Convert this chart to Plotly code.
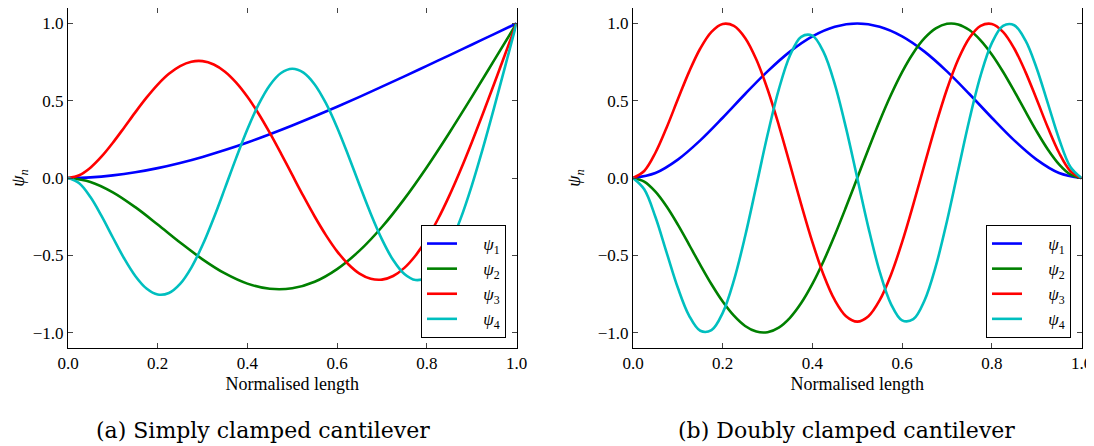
import plotly.graph_objects as go

# ---------------- x positions ----------------
x_grid = [0, 0.05, 0.1, 0.15, 0.2, 0.25, 0.3, 0.35, 0.4, 0.45, 0.5,
          0.55, 0.6, 0.65, 0.7, 0.75, 0.8, 0.85, 0.9, 0.95, 1.0]
x_fine = [0, 0.025, 0.05, 0.075, 0.1, 0.125, 0.15, 0.175, 0.2, 0.225, 0.25,
          0.275, 0.3, 0.325, 0.35, 0.375, 0.4, 0.425, 0.45, 0.475, 0.5,
          0.525, 0.55, 0.575, 0.6, 0.625, 0.65, 0.675, 0.7, 0.725, 0.75,
          0.775, 0.8, 0.825, 0.85, 0.875, 0.9, 0.925, 0.95, 0.975, 1.0]

# ---------------- (a) simply clamped cantilever ----------------
sc_psi1 = [0, 0.0043, 0.0168, 0.0368, 0.0639, 0.0973, 0.1365, 0.1809, 0.2299, 0.2830, 0.3395,
           0.3991, 0.4611, 0.5252, 0.5909, 0.6577, 0.7255, 0.7938, 0.8624, 0.9312, 1.0]
sc_psi2 = [0, -0.0254, -0.0926, -0.1888, -0.3010, -0.4173, -0.5261, -0.6177, -0.6835, -0.7170, -0.7137,
           -0.6713, -0.5895, -0.4702, -0.3171, -0.1350, 0.0700, 0.2916, 0.5233, 0.7611, 1.0]
sc_psi3 = [0, 0.0180, 0.0670, 0.1395, 0.2281, 0.3255, 0.4248, 0.5197, 0.6045, 0.6741, 0.7245,
           0.7525, 0.7562, 0.7347, 0.6881, 0.6177, 0.5259, 0.4159, 0.2918, 0.1580, 0.0197,
           -0.1179, -0.2491, -0.3695, -0.4745, -0.5578, -0.6185, -0.6519, -0.6574, -0.6339, -0.5814,
           -0.5011, -0.3949, -0.2654, -0.1158, 0.0501, 0.2285, 0.4158, 0.6083, 0.8038, 1.0]
sc_psi4 = [0, -0.0343, -0.1235, -0.2469, -0.3850, -0.5193, -0.6338, -0.7151, -0.7538, -0.7442, -0.6852,
           -0.5794, -0.4339, -0.2585, -0.0658, 0.1304, 0.3156, 0.4762, 0.6006, 0.6794, 0.7071,
           0.6817, 0.6053, 0.4838, 0.3265, 0.1455, -0.0452, -0.2310, -0.3974, -0.5311, -0.6214,
           -0.6601, -0.6430, -0.5691, -0.4413, -0.2662, -0.0520, 0.1917, 0.4536, 0.7259, 1.0]

# ---------------- (b) doubly clamped cantilever ----------------
cc_psi1 = [0, 0.0325, 0.1191, 0.2435, 0.3900, 0.5435, 0.6901, 0.8178, 0.9165, 0.9787, 1.0,
           0.9787, 0.9165, 0.8178, 0.6901, 0.5435, 0.3900, 0.2435, 0.1191, 0.0325, 0]
cc_psi2 = [0, -0.0239, -0.0888, -0.1848, -0.3020, -0.4308, -0.5622, -0.6877, -0.7995, -0.8912, -0.9574,
           -0.9937, -0.9975, -0.9677, -0.9044, -0.8093, -0.6855, -0.5370, -0.3692, -0.1880, 0,
           0.1880, 0.3692, 0.5370, 0.6855, 0.8093, 0.9044, 0.9677, 0.9975, 0.9937, 0.9574,
           0.8912, 0.7995, 0.6877, 0.5622, 0.4308, 0.3020, 0.1848, 0.0888, 0.0239, 0]
cc_psi3 = [0, 0.0454, 0.1633, 0.3266, 0.5091, 0.6868, 0.8381, 0.9457, 0.9969, 0.9844, 0.9063,
           0.7667, 0.5743, 0.3426, 0.0880, -0.1710, -0.4154, -0.6273, -0.7909, -0.8943, -0.9295,
           -0.8943, -0.7909, -0.6273, -0.4154, -0.1710, 0.0880, 0.3426, 0.5743, 0.7667, 0.9063,
           0.9844, 0.9969, 0.9457, 0.8381, 0.6868, 0.5091, 0.3266, 0.1633, 0.0454, 0]
cc_psi4 = [0, -0.0729, -0.2527, -0.4828, -0.7105, -0.8904, -0.9886, -0.9843, -0.8723, -0.6622, -0.3771,
           -0.0503, 0.2794, 0.5722, 0.7925, 0.9137, 0.9211, 0.8140, 0.6059, 0.3224, 0,
           -0.3224, -0.6059, -0.8140, -0.9211, -0.9137, -0.7925, -0.5722, -0.2794, 0.0503, 0.3771,
           0.6622, 0.8723, 0.9843, 0.9886, 0.8904, 0.7105, 0.4828, 0.2527, 0.0729, 0]

mode_names = ["<i>ψ</i><sub>1</sub>", "<i>ψ</i><sub>2</sub>", "<i>ψ</i><sub>3</sub>", "<i>ψ</i><sub>4</sub>"]
mode_colors = ["#0000ff", "#008000", "#ff0000", "#00bfbf"]

x_ticks = [0, 0.2, 0.4, 0.6, 0.8, 1.0]
y_ticks = [-1.0, -0.5, 0.0, 0.5, 1.0]
x_title = "Normalised length"
y_title = "<i>ψ<sub>n</sub></i>"
captions = ["(a) Simply clamped cantilever", "(b) Doubly clamped cantilever"]

left_series = [(x_grid, sc_psi1), (x_grid, sc_psi2), (x_fine, sc_psi3), (x_fine, sc_psi4)]
right_series = [(x_grid, cc_psi1), (x_fine, cc_psi2), (x_fine, cc_psi3), (x_fine, cc_psi4)]

# the page body has an 8px margin: the figure is drawn 8px right/down
OFF = 8
W, H = 1094 - OFF, 446 - OFF
SERIF = "Liberation Serif"
CAPTION_FONT = "DejaVu Serif"

fig = go.Figure()
pad = "\u00a0" * 5
for i, (xs, ys) in enumerate(left_series):
    fig.add_trace(go.Scatter(x=xs, y=ys, mode="lines", name=pad + mode_names[i],
                             line=dict(color=mode_colors[i], width=2.6, shape="spline", smoothing=1.0),
                             xaxis="x", yaxis="y", legend="legend"))
for i, (xs, ys) in enumerate(right_series):
    fig.add_trace(go.Scatter(x=xs, y=ys, mode="lines", name=pad + mode_names[i],
                             line=dict(color=mode_colors[i], width=2.6, shape="spline", smoothing=1.0),
                             xaxis="x2", yaxis="y2", legend="legend2"))

# reference-image pixel geometry -> paper fractions
def px(x):
    return min(1.0, max(0.0, (x - OFF) / W))

def py(y):
    return min(1.0, max(0.0, 1 - (y - OFF) / H))

ydom = [py(348), py(8)]

axis_common = dict(
    showline=True, linecolor="black", linewidth=1, mirror="allticks",
    ticks="inside", ticklen=5, tickwidth=1, tickcolor="#444",
    showgrid=False, zeroline=False, automargin=False,
    tickfont=dict(family=SERIF, size=17, color="black"),
)

xaxis_common = dict(axis_common, range=[0, 1], tickvals=x_ticks, tickformat=".1f",
                    title=dict(text=x_title, font=dict(family=SERIF, size=18, color="black"), standoff=4))
yaxis_common = dict(axis_common, range=[-1.1, 1.1], tickvals=y_ticks, tickformat=".1f",
                    title=dict(text=y_title, font=dict(family=SERIF, size=18, color="black"), standoff=12))

legend_common = dict(
    bgcolor="white", bordercolor="black", borderwidth=1,
    font=dict(family=SERIF, size=17, color="black"),
    xanchor="right", yanchor="bottom", tracegroupgap=0,
)

fig.update_layout(
    width=W, height=H,
    margin=dict(l=0, r=0, t=0, b=0),
    paper_bgcolor="white", plot_bgcolor="white",
    font=dict(family=SERIF, color="black"),
    xaxis=dict(xaxis_common, domain=[px(68), px(516.5)], anchor="y"),
    yaxis=dict(yaxis_common, domain=ydom, anchor="x"),
    xaxis2=dict(xaxis_common, domain=[px(633), px(1081.5)], anchor="y2"),
    yaxis2=dict(yaxis_common, domain=ydom, anchor="x2"),
    legend=dict(legend_common, x=px(506), y=py(338)),
    legend2=dict(legend_common, x=px(1071), y=py(338)),
    annotations=[
        dict(text=captions[0], x=px(263), y=py(430), xref="paper", yref="paper",
             showarrow=False, xanchor="center", yanchor="middle",
             font=dict(family=CAPTION_FONT, size=22, color="black")),
        dict(text=captions[1], x=px(846), y=py(430), xref="paper", yref="paper",
             showarrow=False, xanchor="center", yanchor="middle",
             font=dict(family=CAPTION_FONT, size=22, color="black")),
    ],
    showlegend=True,
)

fig.write_html("out.html")
